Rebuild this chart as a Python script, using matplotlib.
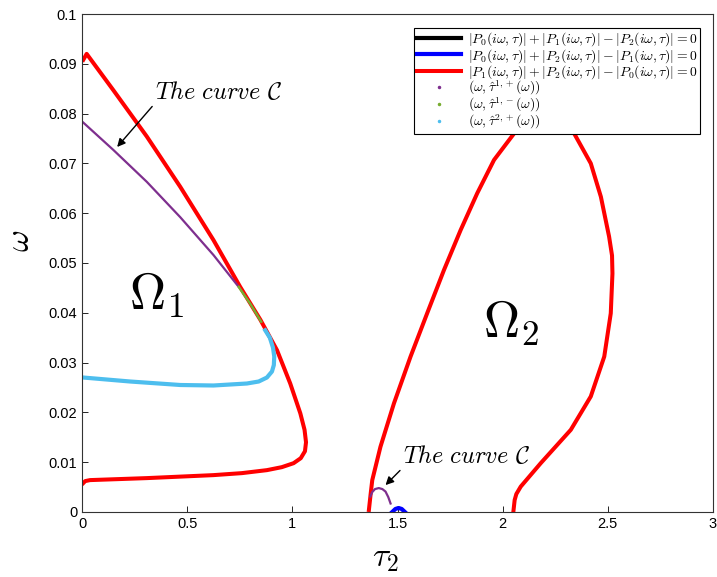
import numpy as np
import matplotlib.pyplot as plt

plt.rcParams['mathtext.fontset'] = 'cm'
plt.rcParams['font.family'] = ['Liberation Sans', 'DejaVu Sans']

# red curve, left part (Omega_1 boundary)
red1_x = [0.006, 0.022, 0.149, 0.308, 0.467, 0.625, 0.752, 0.848, 0.927, 0.990, 1.038,
          1.058, 1.065, 1.060, 1.040, 1.006, 0.950, 0.879, 0.760, 0.625, 0.308, 0.038, 0.015, 0.006]
red1_y = [0.0908, 0.0920, 0.0847, 0.0754, 0.0653, 0.0546, 0.0452, 0.0386, 0.0325, 0.0258, 0.0198,
          0.0165, 0.0140, 0.0122, 0.0108, 0.0098, 0.0090, 0.0084, 0.0078, 0.0074, 0.0068, 0.0064,
          0.0062, 0.0058]

# red curve, right loop (Omega_2 boundary)
red2_x = [1.364, 1.372, 1.380, 1.419, 1.483, 1.562, 1.641, 1.721, 1.800, 1.879, 1.959, 2.054,
          2.13, 2.2, 2.27, 2.340, 2.419, 2.467, 2.506, 2.520, 2.522, 2.514, 2.483, 2.419, 2.324,
          2.181, 2.086, 2.065, 2.057, 2.051]
red2_y = [0.0004, 0.0035, 0.0064, 0.0131, 0.0218, 0.0312, 0.0399, 0.0486, 0.0566, 0.0640, 0.0707,
          0.0760, 0.081, 0.083, 0.081, 0.0760, 0.0700, 0.0633, 0.0553, 0.0515, 0.0479, 0.0399,
          0.0312, 0.0232, 0.0165, 0.0098, 0.0051, 0.0036, 0.0024, 0.0001]

# blue curve
blue_x = [1.475, 1.49, 1.505, 1.52, 1.535]
blue_y = [0.0, 0.0006, 0.0008, 0.0006, 0.0]

# tau^{1,+}
pur_x = [0.006, 0.149, 0.308, 0.467, 0.625, 0.745]
pur_y = [0.0782, 0.0727, 0.0663, 0.0592, 0.0516, 0.0452]
pur2_x = [1.371, 1.38, 1.393, 1.411, 1.428, 1.443, 1.456, 1.467]
pur2_y = [0.0031, 0.0040, 0.0046, 0.0048, 0.0046, 0.0041, 0.0030, 0.0017]

# tau^{1,-}
grn_x = [0.745, 0.80, 0.852]
grn_y = [0.0452, 0.0418, 0.0382]

# tau^{2,+}
cyn_x = [0.871, 0.893, 0.908, 0.914, 0.912, 0.903, 0.879, 0.840, 0.784, 0.625, 0.467, 0.229, 0.006]
cyn_y = [0.0365, 0.0350, 0.0330, 0.0312, 0.0295, 0.0282, 0.0270, 0.0262, 0.0258, 0.0254, 0.0255,
         0.0262, 0.0270]

purple = '#7E2F8E'
green = '#77AC30'
cyan = '#4DBEEE'

fig = plt.figure(figsize=(7.17, 5.77), dpi=100)
ax = fig.add_axes([0.1144, 0.1127, 0.88, 0.8630])

ax.plot([], [], color='black', lw=3,
        label=r'$|P_0(i\omega,\tau)|+|P_1(i\omega,\tau)|-|P_2(i\omega,\tau)|=0$')
ax.plot(blue_x, blue_y, color='blue', lw=3,
        label=r'$|P_0(i\omega,\tau)|+|P_2(i\omega,\tau)|-|P_1(i\omega,\tau)|=0$')
ax.plot(red1_x, red1_y, color='red', lw=2.9, solid_joinstyle='round',
        label=r'$|P_1(i\omega,\tau)|+|P_2(i\omega,\tau)|-|P_0(i\omega,\tau)|=0$')
ax.plot(red2_x, red2_y, color='red', lw=2.9, solid_joinstyle='round')

ax.plot(pur_x, pur_y, color=purple, lw=1.6, solid_joinstyle='round')
ax.plot(pur2_x, pur2_y, color=purple, lw=1.6, solid_joinstyle='round')
ax.plot(grn_x, grn_y, color=green, lw=1.8)
ax.plot(cyn_x, cyn_y, color=cyan, lw=3, solid_joinstyle='round')

ax.plot([], [], '.', color=purple, ms=3, label=r'$(\omega,\hat{\tau}^{1,+}(\omega))$')
ax.plot([], [], '.', color=green, ms=3, label=r'$(\omega,\hat{\tau}^{1,-}(\omega))$')
ax.plot([], [], '.', color=cyan, ms=3, label=r'$(\omega,\hat{\tau}^{2,+}(\omega))$')

ax.annotate(r'$\mathit{The\ curve}\ \mathcal{C}$', xy=(0.167, 0.0733), xytext=(0.345, 0.0843),
            fontsize=17.5, ha='left', va='center',
            arrowprops=dict(arrowstyle='-|>', color='black', lw=1, mutation_scale=12,
                            shrinkA=0, shrinkB=0, relpos=(0.0, 0.0)))
ax.annotate(r'$\mathit{The\ curve}\ \mathcal{C}$', xy=(1.443, 0.0054), xytext=(1.525, 0.0112),
            fontsize=17.5, ha='left', va='center',
            arrowprops=dict(arrowstyle='-|>', color='black', lw=1, mutation_scale=12,
                            shrinkA=0, shrinkB=0, relpos=(0.0, 0.0)))

ax.text(0.355, 0.0436, r'$\Omega_1$', fontsize=36, ha='center', va='center')
ax.text(2.04, 0.038, r'$\Omega_2$', fontsize=36, ha='center', va='center')

ax.set_xlim(0, 3)
ax.set_ylim(0, 0.1)
ax.set_xticks([0, 0.5, 1, 1.5, 2, 2.5, 3])
ax.set_xticklabels(['0', '0.5', '1', '1.5', '2', '2.5', '3'])
ax.set_yticks(np.arange(0, 0.101, 0.01))
ax.set_yticklabels(['0', '0.01', '0.02', '0.03', '0.04', '0.05', '0.06', '0.07', '0.08', '0.09', '0.1'])
ax.tick_params(direction='in', labelsize=10.5, length=4, width=0.6, top=False, right=False)
for s in ax.spines.values():
    s.set_linewidth(0.8)
    s.set_color('#333333')

ax.set_xlabel(r'$\tau_2$', fontsize=24)
ax.set_ylabel(r'$\omega$', fontsize=24)
ax.xaxis.set_label_coords(0.481, -0.062)
ax.yaxis.set_label_coords(-0.073, 0.545)

leg = ax.legend(loc='upper right', bbox_to_anchor=(0.980, 0.972), fontsize=9.9,
                handlelength=3.2, handletextpad=0.5, borderpad=0.2, labelspacing=-0.12,
                fancybox=False, framealpha=1, edgecolor='black', borderaxespad=0)
leg.get_frame().set_linewidth(0.8)

fig.savefig('out.png', dpi=100)
